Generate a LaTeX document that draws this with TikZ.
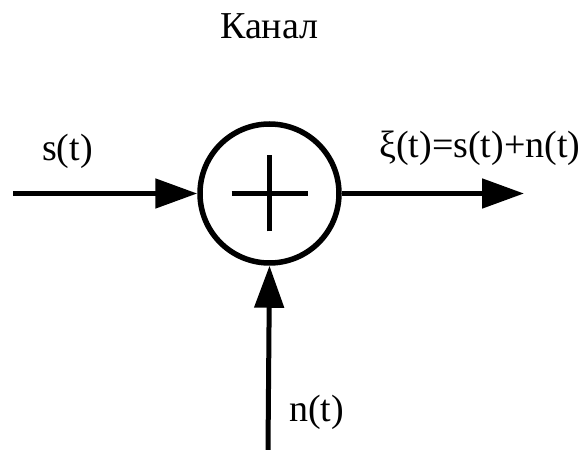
\documentclass[tikz,border=0pt]{standalone}
\usepackage{fontspec}
\setmainfont{Liberation Serif}
\usetikzlibrary{arrows.meta}
\begin{document}
\begin{tikzpicture}[x=1pt,y=1pt,
  conn/.style={line width=5pt,-{Triangle[length=42pt,width=29pt]}},
  lbl/.style={inner sep=0pt,anchor=base west,font=\rmfamily\fontsize{38}{40}\selectfont},
  sumnode/.style={circle,draw,line width=5.5pt,inner sep=0pt,minimum size=139pt}]
\useasboundingbox (0,0) rectangle (584,450);
\node[sumnode] (sum) at (269.5,256.5) {};
\draw[line width=5pt] ([xshift=-38pt]sum.center) -- ([xshift=38pt]sum.center);
\draw[line width=5pt] ([yshift=-38pt]sum.center) -- ([yshift=38pt]sum.center);
\coordinate (in) at (13,256.5);
\coordinate (out) at (524,256.5);
\coordinate (noise) at (268,0);
\draw[conn] (in) -- (sum.west);
\draw[conn] (sum.east) -- (out);
\draw[conn] (noise) -- (sum.south);
\node[lbl] (title) at (220,411) {Канал};
\node[lbl] (s) at (42,289) {s(t)};
\node[lbl] (xi) at (379,292) {ξ(t)=s(t)+n(t)};
\node[lbl] (n) at (289,28) {n(t)};
\end{tikzpicture}
\end{document}
